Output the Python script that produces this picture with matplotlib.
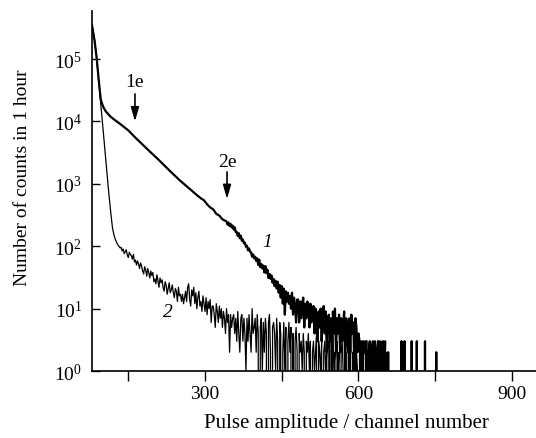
import numpy as np
import matplotlib
matplotlib.use("Agg")
import matplotlib.pyplot as plt
from matplotlib.ticker import NullLocator, LogFormatterSciNotation

plt.rcParams['font.family'] = ['Liberation Serif', 'DejaVu Serif']
plt.rcParams['mathtext.fontset'] = 'custom'
plt.rcParams['mathtext.rm'] = 'Liberation Serif'
plt.rcParams['mathtext.it'] = 'Liberation Serif:italic'

## Datos: curva 1 (parte suave + parte con ruido, canales de 2 en 2)
c1_ch = [79, 84, 88, 92, 96, 99, 102, 106, 110, 116, 124, 135, 150, 163, 180, 192,
         210, 230, 250, 270, 286, 292, 298, 304, 310, 316, 322, 328, 334, 340]
c1_cnt = [350000, 200000, 107000, 48000, 23000, 19000, 16500, 14500, 13300, 11800,
          10500, 9000, 7200, 5600, 4100, 3300, 2400, 1650, 1150, 830,
          640, 585, 545, 470, 420, 390, 330, 310, 270, 255]
c1_noisy_ch = np.arange(342, 761, 2)
c1_noisy_cnt = [
    250, 222, 240, 210, 228, 200, 215, 185, 202, 168,
    170, 146, 162, 134, 148, 122, 128, 112, 114, 98,
    102, 86, 92, 82, 80, 68, 74, 64, 68, 58,
    64, 50, 61, 46, 52, 44, 49, 38, 48, 37,
    42, 31, 36, 30, 34, 26, 30, 23, 28, 21,
    27, 18, 24, 15, 23, 12, 21, 8, 19, 13,
    18, 12, 16, 10, 18, 8, 15, 11, 6, 14,
    14, 6, 13, 7, 12, 15, 5, 12, 7, 13,
    10, 5, 12, 6, 9, 11, 4, 10, 8, 3,
    9, 5, 10, 3, 8, 11, 4, 9, 2, 7,
    8, 3, 7, 1, 9, 4, 10, 2, 7, 4,
    8, 2, 7, 3, 6, 9, 1, 7, 5, 2,
    7, 2, 8, 4, 6, 1, 7, 5, 2, 4,
    3, 2, 3, 1, 3, 2, 3, 3, 0, 2,
    3, 1, 2, 3, 0, 3, 2, 1, 3, 2,
    3, 0, 2, 3, 1, 3, 0, 0, 2, 0,
    0, 0, 0, 0, 0, 0, 0, 0, 0, 0,
    0, 3, 0, 0, 3, 0, 0, 0, 0, 0,
    0, 3, 0, 0, 0, 0, 3, 0, 0, 0,
    0, 0, 0, 0, 3, 0, 0, 0, 0, 0,
    0, 0, 0, 0, 0, 2, 0, 0, 0, 0]

## Datos: curva 2
c2_ch = [79, 84, 88, 92, 96, 100, 104, 108, 112, 116, 119, 122, 126, 130, 134]
c2_cnt = [350000, 200000, 107000, 46000, 20000, 8500, 3700, 1600, 690, 330,
          200, 150, 120, 104, 94]
c2_noisy_ch = np.arange(136, 761, 2)
c2_noisy_cnt = [
    96, 84, 90, 76, 82, 88, 72, 66, 80, 74,
    70, 62, 74, 56, 60, 50, 58, 52, 44, 54,
    48, 40, 36, 47, 42, 33, 44, 38, 31, 40,
    34, 38, 27, 30, 25, 35, 28, 22, 31, 26,
    29, 22, 19, 27, 24, 17, 21, 26, 18, 20,
    24, 18, 15, 21, 19, 13, 22, 16, 17, 13,
    17, 12, 15, 19, 13, 22, 25, 14, 11, 20,
    16, 22, 12, 18, 10, 15, 19, 11, 13, 9,
    16, 12, 9, 15, 8, 13, 10, 14, 6, 11,
    11, 8, 5, 12, 9, 6, 11, 7, 10, 5,
    9, 7, 4, 10, 6, 8, 2, 8, 5, 7,
    8, 4, 7, 3, 9, 4, 2, 7, 8, 3,
    7, 4, 1, 7, 3, 8, 4, 2, 10, 4,
    5, 7, 2, 8, 4, 0, 5, 7, 1, 6,
    2, 7, 4, 0, 6, 8, 2, 0, 5, 6,
    4, 1, 7, 3, 0, 6, 4, 0, 2, 6,
    1, 5, 0, 3, 6, 2, 5, 0, 4, 0,
    3, 5, 2, 0, 4, 2, 3, 1, 4, 2,
    0, 3, 2, 4, 1, 3, 0, 2, 3, 1,
    2, 4, 0, 3, 2, 1, 3, 0, 2, 3,
    1, 2, 0, 3, 2, 0, 2, 4, 1, 2,
    0, 3, 1, 2, 0, 2, 3, 1, 0, 2,
    2, 0, 3, 1, 2, 0, 2, 1, 3, 0,
    2, 1, 0, 2, 3, 0, 1, 2, 0, 2,
    1, 0, 2, 2, 0, 1, 3, 0, 2, 1,
    0, 2, 1, 0, 2, 3, 0, 1, 2, 0,
    2, 0, 0, 0, 0, 0, 0, 0, 0, 0,
    0, 0, 0, 0, 0, 0, 0, 0, 0, 0,
    0, 0, 0, 0, 0, 0, 0, 0, 0, 0,
    0, 0, 0, 0, 0, 0, 0, 0, 0, 0,
    0, 0, 0, 0, 0, 0, 0, 0, 0, 0,
    0, 0, 0]

x1 = np.concatenate([c1_ch, c1_noisy_ch])
y1 = np.concatenate([c1_cnt, c1_noisy_cnt]).astype(float)
x2 = np.concatenate([c2_ch, c2_noisy_ch])
y2 = np.concatenate([c2_cnt, c2_noisy_cnt]).astype(float)

## Figura
fig = plt.figure(figsize=(5.36, 4.39), dpi=100)
ax = fig.add_axes([0.1716, 0.1526, 0.8284, 0.8201])

ax.plot(x2, y2, color='black', lw=0.9)
ax.plot(x1, y1, color='black', lw=1.6)

ax.set_yscale('log', nonpositive='clip')
ax.set_xlim(79, 947)
ax.set_ylim(1, 5.9e5)

ax.set_xticks([300, 600, 900])
ax.set_xticks([150, 450, 750], minor=True)
ax.set_yticks([1, 10, 100, 1e3, 1e4, 1e5])
ax.yaxis.set_minor_locator(NullLocator())
ax.yaxis.set_major_formatter(LogFormatterSciNotation())

ax.tick_params(axis='x', which='both', direction='out', length=7, width=1, labelsize=14, pad=3)
ax.tick_params(axis='y', which='both', direction='in', length=6, width=1, labelsize=14, pad=7)

for s in ['top', 'right']:
    ax.spines[s].set_visible(False)
for s in ['left', 'bottom']:
    ax.spines[s].set_linewidth(1.2)

ax.set_xlabel('Pulse amplitude / channel number', fontsize=15)
ax.set_ylabel('Number of counts in 1 hour', fontsize=14)
ax.xaxis.set_label_coords(0.572, -0.118)
ax.yaxis.set_label_coords(-0.138, 0.539)

# Etiquetas de las curvas y flechas
ax.text(421, 121, '1', fontsize=14, style='italic', ha='center', va='center')
ax.text(228, 8.9, '2', fontsize=14, style='italic', ha='center', va='center')

flecha = dict(arrowstyle='-|>,head_length=0.7,head_width=0.2', color='black',
              lw=1.2, mutation_scale=12, shrinkA=0, shrinkB=0)
ax.text(163, 43000, '1e', fontsize=14, ha='center', va='center')
ax.annotate('', xy=(163, 10000), xytext=(163, 27600), arrowprops=flecha)
ax.text(343, 2240, '2e', fontsize=14, ha='center', va='center')
ax.annotate('', xy=(343, 570), xytext=(343, 1550), arrowprops=flecha)

fig.savefig('out.png', dpi=100)
